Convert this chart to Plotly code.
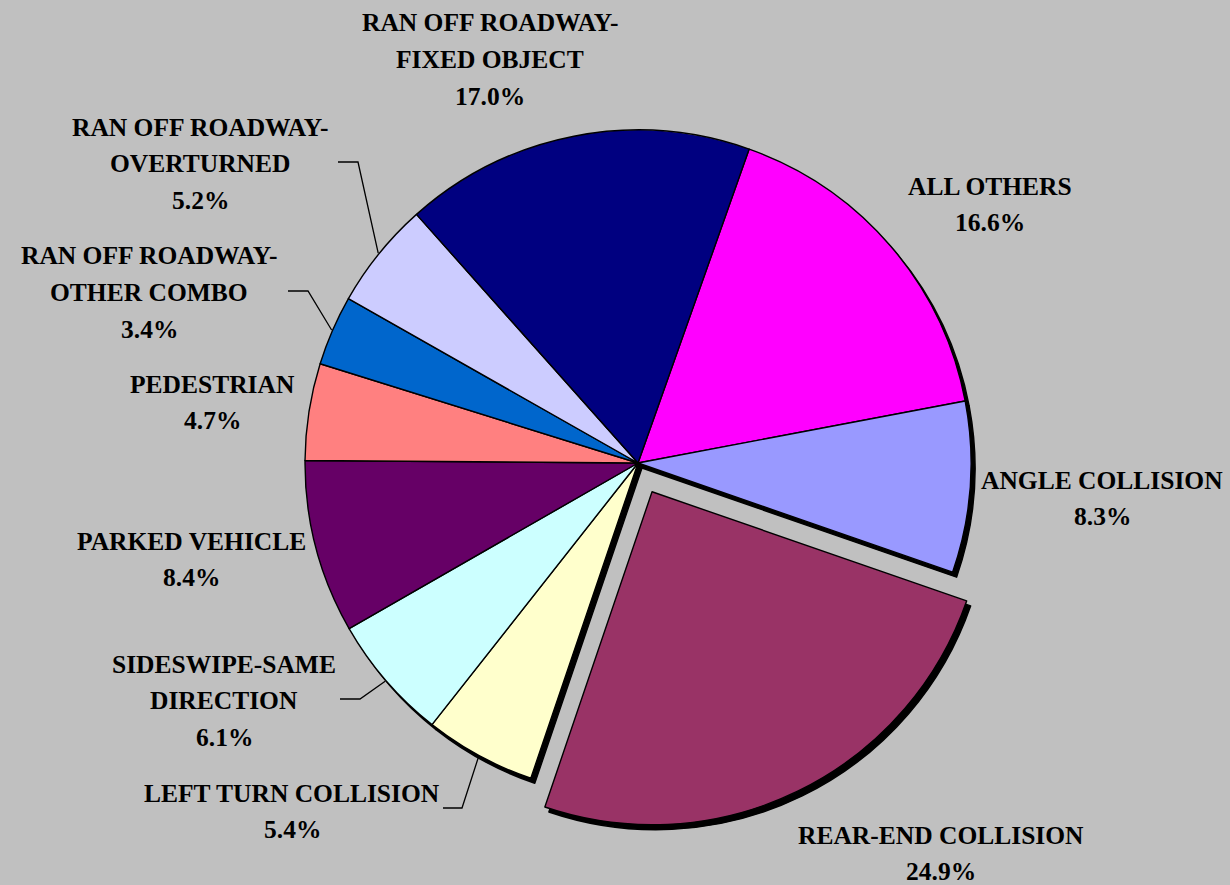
import math
import plotly.graph_objects as go

# ---------------- data ----------------
categories = [
    "ALL OTHERS",
    "ANGLE COLLISION",
    "REAR-END COLLISION",
    "LEFT TURN COLLISION",
    "SIDESWIPE-SAME DIRECTION",
    "PARKED VEHICLE",
    "PEDESTRIAN",
    "RAN OFF ROADWAY-OTHER COMBO",
    "RAN OFF ROADWAY-OVERTURNED",
    "RAN OFF ROADWAY-FIXED OBJECT",
]
label_lines = [
    ["ALL OTHERS"],
    ["ANGLE COLLISION"],
    ["REAR-END COLLISION"],
    ["LEFT TURN COLLISION"],
    ["SIDESWIPE-SAME", "DIRECTION"],
    ["PARKED VEHICLE"],
    ["PEDESTRIAN"],
    ["RAN OFF ROADWAY-", "OTHER COMBO"],
    ["RAN OFF ROADWAY-", "OVERTURNED"],
    ["RAN OFF ROADWAY-", "FIXED OBJECT"],
]
values = [16.6, 8.3, 24.9, 5.4, 6.1, 8.4, 4.7, 3.4, 5.2, 17.0]
colors = ["#FF00FF", "#9999FF", "#993366", "#FFFFCC", "#CCFFFF",
          "#660066", "#FF8080", "#0066CC", "#CCCCFF", "#000080"]
pulled_category = "REAR-END COLLISION"

# ---------------- layout / style ----------------
W, H = 1230, 885
CX, CY, R = 638, 463, 333          # pie centre & radius in pixels
PULL_PX = 32
ROTATION = 19.5                    # start angle of first slice (deg, clockwise from 12 o'clock)
SHADOW_DX, SHADOW_DY = 4, 5
FONT = dict(family="Liberation Serif, Times New Roman, serif", size=25.5, color="black")
LINE_PITCH = 36.7

# label placement: centre x, cap-centre y of first line (pixels)
label_pos = {
    "ALL OTHERS": (990, 186),
    "ANGLE COLLISION": (1102, 480),
    "REAR-END COLLISION": (941, 835),
    "LEFT TURN COLLISION": (292, 793),
    "SIDESWIPE-SAME DIRECTION": (224, 664),
    "PARKED VEHICLE": (191, 541),
    "PEDESTRIAN": (212, 384),
    "RAN OFF ROADWAY-OTHER COMBO": (149, 256),
    "RAN OFF ROADWAY-OVERTURNED": (200, 127),
    "RAN OFF ROADWAY-FIXED OBJECT": (490, 23),
}
# leader line elbows (pixels), ending at slice edge
leaders = {
    "RAN OFF ROADWAY-OVERTURNED": [(338, 162), (358, 162)],
    "RAN OFF ROADWAY-OTHER COMBO": [(288, 291), (308, 291)],
    "SIDESWIPE-SAME DIRECTION": [(340, 699), (360, 699)],
    "LEFT TURN COLLISION": [(443, 808), (462, 808)],
}

pull_frac = PULL_PX / R
pulls = [pull_frac if c == pulled_category else 0 for c in categories]
half = R * (1 + pull_frac)


def px2paper(x, y):
    return x / W, 1 - y / H


def domain(cx, cy):
    return dict(x=[(cx - half) / W, (cx + half) / W],
                y=[1 - (cy + half) / H, 1 - (cy - half) / H])


fig = go.Figure()
# shadow
fig.add_trace(go.Pie(
    labels=categories, values=values, sort=False, direction="clockwise",
    rotation=ROTATION, pull=pulls, textinfo="none", hoverinfo="skip",
    marker=dict(colors=["black"] * len(values), line=dict(color="black", width=1.4)),
    domain=domain(CX + SHADOW_DX, CY + SHADOW_DY), showlegend=False,
))
# main pie
fig.add_trace(go.Pie(
    labels=categories, values=values, sort=False, direction="clockwise",
    rotation=ROTATION, pull=pulls, textinfo="none",
    marker=dict(colors=colors, line=dict(color="black", width=1.4)),
    domain=domain(CX, CY), showlegend=False,
))

annotations = []
for cat, lines, v in zip(categories, label_lines, values):
    x0, y0 = label_pos[cat]
    texts = lines + [f"{v:.1f}%"]
    for k, t in enumerate(texts):
        px, py = px2paper(x0, y0 + k * LINE_PITCH)
        annotations.append(dict(x=px, y=py, xref="paper", yref="paper",
                                text=f"<b>{t}</b>", showarrow=False,
                                xanchor="center", yanchor="middle", font=FONT))

# leader lines to slice mid-angle on edge
total = sum(values)
shapes = []
cum = 0.0
for cat, v in zip(categories, values):
    mid = math.radians(ROTATION + (cum + v / 2) / total * 360)
    cum += v
    if cat in leaders:
        ex = CX + (R + 1) * math.sin(mid)
        ey = CY - (R + 1) * math.cos(mid)
        pts = leaders[cat] + [(ex, ey)]
        path = "M " + " L ".join(f"{px2paper(x, y)[0]},{px2paper(x, y)[1]}" for x, y in pts)
        shapes.append(dict(type="path", xref="paper", yref="paper", path=path,
                           line=dict(color="black", width=1.3)))

fig.update_layout(
    width=W, height=H, margin=dict(l=0, r=0, t=0, b=0),
    paper_bgcolor="#C0C0C0", plot_bgcolor="#C0C0C0",
    annotations=annotations, shapes=shapes, showlegend=False,
)
fig.write_html(
    "out.html",
    config={"displayModeBar": False},
    post_script="document.body.style.margin='0';document.body.style.overflow='hidden';",
)
